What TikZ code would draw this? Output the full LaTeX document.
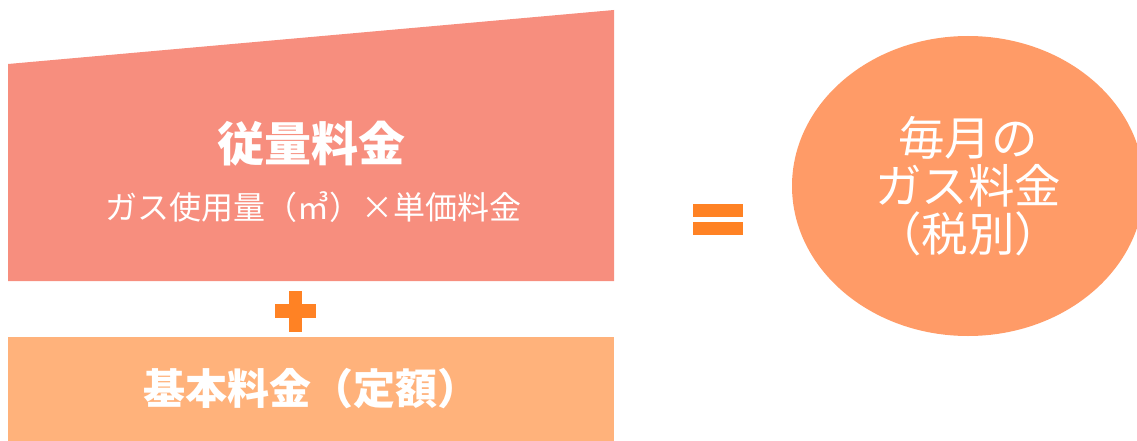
\documentclass[tikz,border=0pt]{standalone}
\usepackage{fontspec}
\setmainfont{Noto Sans CJK JP}
\usepackage{tikz}
\usetikzlibrary{shapes.geometric}
\definecolor{usagered}{RGB}{247,142,126}
\definecolor{baseorange}{RGB}{255,178,123}
\definecolor{totalorange}{RGB}{255,155,103}
\definecolor{signorange}{RGB}{255,130,36}

\begin{document}
\begin{tikzpicture}[x=1pt, y=-1pt, every node/.style={text=white, inner sep=0pt}]
    \useasboundingbox (0,0) rectangle (1137,441);

    \fill [usagered] (8,64) -- (614,10) -- (614,281) -- (8,281) -- cycle;
    \fill [baseorange] (8,337) rectangle (614,441);
    \fill [signorange] (289,291) rectangle (302,332);
    \fill [signorange] (275,304) rectangle (316,318);
    \fill [signorange] (693,204) rectangle (743,216.5);
    \fill [signorange] (693,222) rectangle (743,234.5);

    \node (a) at (311,144) {\fontsize{47}{49}\selectfont\bfseries 従量料金};
    \node (b) at (313,207) {\fontsize{32}{34}\selectfont ガス使用量（㎥）×単価料金};
    \node (c) at (311,389) {\fontsize{42}{44}\selectfont\bfseries 基本料金（定額）};
    \node (d) [ellipse, fill=totalorange, minimum width=352pt, minimum height=300pt,
        align=center, font=\fontsize{46.5}{48}\selectfont] at (968,186)
        {毎月の\\ガス料金\\（税別）};

\end{tikzpicture}
\end{document}
